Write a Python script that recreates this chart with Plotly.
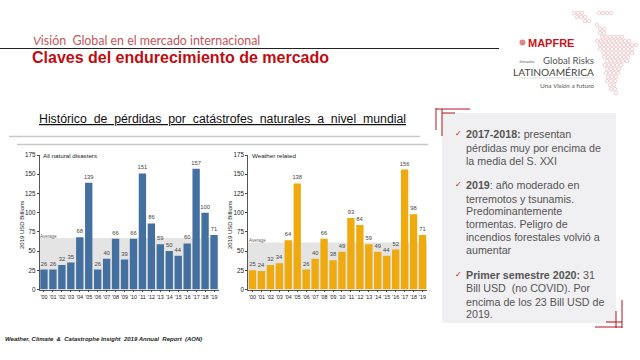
import plotly.graph_objects as go

W, H = 640, 360
years = ["'00","'01","'02","'03","'04","'05","'06","'07","'08","'09","'10","'11","'12","'13","'14","'15","'16","'17","'18","'19"]
all_disasters = [26,26,32,35,68,139,26,40,66,39,66,151,86,59,50,44,60,157,100,71]
weather_related = [25,24,32,34,64,138,26,40,66,38,49,93,84,59,49,44,52,156,98,71]
avg_all = 67
avg_weather = 61
y_ticks = [0,25,50,75,100,125,150,175]
BLUE, GOLD, SHADE = "#44709f", "#eeaa0e", "#e4e4e4"
RED = "#c00d12"
ARIAL = "Liberation Sans"

def px(x): return x / W
def py(y): return 1 - y / H

fig = go.Figure()
panels = [
    (all_disasters, BLUE, avg_all, "x", "y", (39.5, 218.5), "All natural disasters", 43, 22),
    (weather_related, GOLD, avg_weather, "x2", "y2", (248, 427), "Weather related", 252, 230),
]
shapes, ann = [], []

def T(x, y, s, size=10, color="#333", anchor="left", font=ARIAL, angle=0):
    off = {"left": -2, "right": 2, "center": 0}[anchor]
    ann.append(dict(xref="paper", yref="paper", x=px(x + off), y=py(y), text=s, showarrow=False,
                    xanchor=anchor, yanchor="middle", align=anchor,
                    font=dict(size=size, color=color, family=font), textangle=angle))

def L(x0, y0, x1, y1, color="#000", w=1):
    shapes.append(dict(type="line", xref="paper", yref="paper", x0=px(x0), x1=px(x1), y0=py(y0), y1=py(y1),
                       line=dict(color=color, width=w), layer="below"))

for vals, col, avg, xa, ya, dom, name, tx, lx in panels:
    fig.add_trace(go.Bar(x=years, y=vals, xaxis=xa, yaxis=ya, marker=dict(color=col, line=dict(width=0)),
                         width=0.82, text=vals, textposition="outside", cliponaxis=False, constraintext="none",
                         textfont=dict(size=5.8, color="#444", family=ARIAL), showlegend=False))
    shapes.append(dict(type="rect", xref=xa, yref=ya, x0=-0.5, x1=19.5, y0=0, y1=avg,
                       fillcolor=SHADE, line=dict(width=0), layer="below"))
    T(tx, 155.5, name, size=6.2, color="#222")
    T(tx - 3, 236 if avg > 65 else 240, "Average", size=4.5, color="#666")
    T(lx, 225, "2019 USD Billions", size=6, color="#222", anchor="center", angle=-90)

axis_x = dict(type="category", range=[-0.5, 19.5], tickfont=dict(size=5.4, color="#222", family=ARIAL),
              ticks="outside", ticklen=2, tickwidth=0.5, tickcolor="#444", showgrid=False, showline=True,
              linecolor="#555", linewidth=0.6, tickangle=0, zeroline=False, automargin=False,
              tickmode="array", tickvals=years, ticktext=years)
axis_y = dict(range=[0, 175], tickvals=y_ticks, tickfont=dict(size=6.3, color="#222", family=ARIAL),
              ticks="outside", ticklen=2, tickwidth=0.5, tickcolor="#444", showgrid=False, showline=True,
              linecolor="#555", linewidth=0.6, zeroline=False, domain=[py(289.5), py(155)], automargin=False)

fig.update_layout(
    width=W, height=H, margin=dict(l=0, r=0, t=0, b=0), paper_bgcolor="white", plot_bgcolor="rgba(0,0,0,0)",
    xaxis=dict(axis_x, domain=[px(39.5), px(218.5)], anchor="y"),
    yaxis=dict(axis_y, anchor="x"),
    xaxis2=dict(axis_x, domain=[px(248), px(427)], anchor="y2"),
    yaxis2=dict(axis_y, anchor="x2"),
)

# slide header
T(33, 40, "<i>V</i>isión  Global en el mercado internacional", size=12.4, color="#c4565b", font="Lato")
L(0, 48.5, 499, 48.5, "#222", 1)
T(32, 58, "<b>Claves del endurecimiento de mercado</b>", size=16, color=RED)
T(39, 119, "<u>Histórico  de  pérdidas  por  catástrofes  naturales  a  nivel  mundial</u>", size=12.3, color="#111")
L(9, 136.5, 420, 136.5, "#c8c8c8", 1.5)
L(17, 144.5, 428, 144.5, "#c8c8c8", 1.5)
T(5, 339, "<b><i>Weather, Climate  &amp;  Catastrophe Insight  2019 Annual  Report  (AON)</i></b>", size=6, color="#222")

# side panel
shapes.append(dict(type="rect", xref="paper", yref="paper", x0=px(442), x1=px(616), y0=py(323), y1=py(113),
                   fillcolor="#f0eff1", line=dict(width=0), layer="below"))
DRED = "#b0141c"
L(436, 109, 470, 109, DRED, 1); L(436, 108, 436, 130, DRED, 1)
L(442, 113, 455, 113, DRED, 1); L(442, 109, 442, 136, DRED, 1)
L(622, 300, 622, 328, DRED, 1); L(616, 311, 616, 328, DRED, 1)
L(595, 327, 622, 327, DRED, 1); L(606, 322, 622, 322, DRED, 1)

side_lines = [
    (134, "<b>2017-2018:</b> presentan"), (147.5, "pérdidas muy por encima de"), (161, "la media del S. XXI"),
    (185, "<b>2019</b>: año moderado en"), (198.5, "terremotos y tsunamis."), (211, "Predominantemente"),
    (224, "tormentas. Peligro de"), (237, "incendios forestales volvió a"), (249.5, "aumentar"),
    (275, "<b>Primer semestre 2020:</b> 31"), (288, "Bill USD  (no COVID). Por"), (301.5, "encima de los 23 Bill USD de"),
    (314, "2019."),
]
for y, s in side_lines:
    T(466, y, s, size=10.7, color="#555")
for y in (133.5, 184.5, 274.5):
    T(455, y, "✓", size=8, color="#c8102e", font="DejaVu Sans")

# logo
T(528, 43, "<b>MAPFRE</b>", size=11, color="#c8141c")
shapes.append(dict(type="circle", xref="paper", yref="paper", x0=px(519.5), x1=px(525.5), y0=py(45.5), y1=py(39.5),
                   fillcolor="#e0858a", line=dict(width=0), layer="below"))
T(519, 61, "Jornadas", size=4, color="#666", font="Lato")
T(594, 60.5, "Global Risks", size=9.6, color="#555", font="Lato", anchor="right")
T(594, 72.5, "LATINO<i>A</i>MÉRICA", size=10.2, color="#444", font="Lato", anchor="right")
L(519, 78, 594, 78, "#bbb", 0.5)
T(594, 85, "Una <i>Visión</i> a futuro", size=6.5, color="#555", font="Lato", anchor="right")

# decorative map in logo, as rows of small rings: (y, x from, x to)
map_rows = [(13,574,584),(13,597,611),(17,577,586),(21,583,590),(25,597,600),(29,598,604),(33,600,606),
            (37,600,622),(41,597,632),(45,598,637),(49,600,634),(53,602,632),(57,604,630),(61,605,627),
            (65,605,624),(69,605,621),(73,606,620),(77,606,618),(81,607,617),(85,608,616),(89,611,617),(93,614,617)]
mx, my = [], []
for row, (y, a, b) in enumerate(map_rows):
    x = a + (row % 2) * 2
    while x <= b:
        mx.append(px(x)); my.append(py(y)); x += 4
fig.add_trace(go.Scatter(x=mx, y=my, xaxis="x3", yaxis="y3", mode="markers", hoverinfo="skip", showlegend=False,
                         marker=dict(symbol="circle-open", size=3.5, color="#eab4b4", line=dict(width=0.6))))
fig.update_layout(
    xaxis3=dict(domain=[0, 1], range=[0, 1], visible=False, anchor="y3"),
    yaxis3=dict(domain=[0, 1], range=[0, 1], visible=False, anchor="x3"),
    shapes=shapes, annotations=ann,
)
fig.write_html("out.html", post_script="document.body.style.margin='0';", config=dict(displayModeBar=False))
